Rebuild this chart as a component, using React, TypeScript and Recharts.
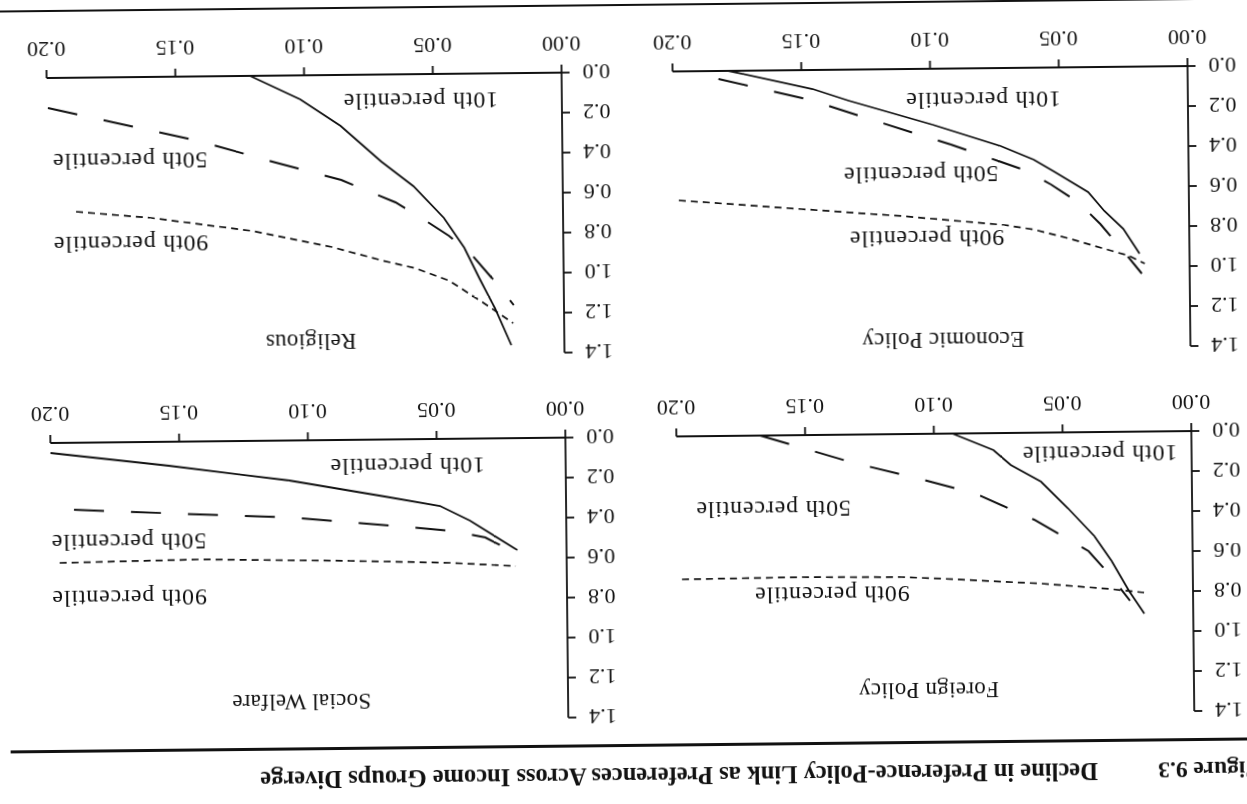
import React from "react";
import { LineChart, Line, XAxis, YAxis, ReferenceDot } from "recharts";

type Pt = { x: number; y: number };

const INK = "#111";
const FONT = '"Liberation Serif", "Times New Roman", serif';

const xTicks = [0, 0.05, 0.1, 0.15, 0.2];
const yTicks = [0, 0.2, 0.4, 0.6, 0.8, 1.0, 1.2, 1.4];
const seriesNames = ["10th percentile", "50th percentile", "90th percentile"];

const captionNumber = "Figure 9.3";
const captionText = "Decline in Preference-Policy Link as Preferences Across Income Groups Diverge";

// Foreign Policy
const foreign10: Pt[] = [
  { x: 0.0928, y: 0 }, { x: 0.0769, y: 0.085 }, { x: 0.0703, y: 0.16 }, { x: 0.0586, y: 0.245 },
  { x: 0.0482, y: 0.38 }, { x: 0.0381, y: 0.52 }, { x: 0.0315, y: 0.645 }, { x: 0.0249, y: 0.795 },
  { x: 0.019, y: 0.91 },
];
const foreign50: Pt[] = [
  { x: 0.1674, y: 0 }, { x: 0.1317, y: 0.14 }, { x: 0.1072, y: 0.22 }, { x: 0.0843, y: 0.3 },
  { x: 0.0614, y: 0.435 }, { x: 0.0404, y: 0.595 }, { x: 0.0322, y: 0.715 }, { x: 0.0245, y: 0.845 },
];
const foreign90: Pt[] = [
  { x: 0.1984, y: 0.715 }, { x: 0.1518, y: 0.71 }, { x: 0.113, y: 0.715 }, { x: 0.0975, y: 0.725 },
  { x: 0.0586, y: 0.755 }, { x: 0.0326, y: 0.785 }, { x: 0.019, y: 0.805 },
];
const foreignSpots: Pt[] = [
  { x: 0.0357, y: 0.11 }, { x: 0.1627, y: 0.37 }, { x: 0.1402, y: 0.8 }, { x: 0.103, y: 1.285 },
];

// Social Welfare
const social10: Pt[] = [
  { x: 0.2, y: 0.05 }, { x: 0.1541, y: 0.12 }, { x: 0.1074, y: 0.2 }, { x: 0.0704, y: 0.285 },
  { x: 0.049, y: 0.335 }, { x: 0.0374, y: 0.41 }, { x: 0.0191, y: 0.56 },
];
const social50: Pt[] = [
  { x: 0.1911, y: 0.335 }, { x: 0.1502, y: 0.36 }, { x: 0.1074, y: 0.385 }, { x: 0.0646, y: 0.435 },
  { x: 0.0451, y: 0.46 }, { x: 0.0315, y: 0.495 }, { x: 0.0198, y: 0.575 },
];
const social90: Pt[] = [
  { x: 0.1969, y: 0.6 }, { x: 0.1424, y: 0.59 }, { x: 0.084, y: 0.605 }, { x: 0.0451, y: 0.62 },
  { x: 0.0198, y: 0.64 },
];
const socialSpots: Pt[] = [
  { x: 0.0615, y: 0.135 }, { x: 0.17, y: 0.5 }, { x: 0.17, y: 0.78 }, { x: 0.1035, y: 1.31 },
];

// Economic Policy
const economic10: Pt[] = [
  { x: 0.1783, y: 0 }, { x: 0.1457, y: 0.095 }, { x: 0.1318, y: 0.155 }, { x: 0.0992, y: 0.28 },
  { x: 0.0729, y: 0.39 }, { x: 0.0601, y: 0.46 }, { x: 0.0523, y: 0.52 }, { x: 0.0391, y: 0.625 },
  { x: 0.0329, y: 0.72 }, { x: 0.0256, y: 0.81 }, { x: 0.0194, y: 0.935 },
];
const economic50: Pt[] = [
  { x: 0.1822, y: 0.04 }, { x: 0.1465, y: 0.15 }, { x: 0.1233, y: 0.25 }, { x: 0.0922, y: 0.38 },
  { x: 0.064, y: 0.51 }, { x: 0.0535, y: 0.585 }, { x: 0.043, y: 0.675 }, { x: 0.0345, y: 0.785 },
  { x: 0.0264, y: 0.91 }, { x: 0.0186, y: 1.035 },
];
const economic90: Pt[] = [
  { x: 0.1981, y: 0.645 }, { x: 0.1504, y: 0.695 }, { x: 0.1116, y: 0.735 }, { x: 0.0717, y: 0.785 },
  { x: 0.0601, y: 0.81 }, { x: 0.0469, y: 0.855 }, { x: 0.0341, y: 0.905 }, { x: 0.0236, y: 0.945 },
  { x: 0.0174, y: 0.985 },
];
const economicSpots: Pt[] = [
  { x: 0.0795, y: 0.16 }, { x: 0.104, y: 0.53 }, { x: 0.102, y: 0.85 }, { x: 0.096, y: 1.36 },
];

// Religious
const religious10: Pt[] = [
  { x: 0.121, y: 0 }, { x: 0.1016, y: 0.12 }, { x: 0.086, y: 0.255 }, { x: 0.0704, y: 0.435 },
  { x: 0.058, y: 0.56 }, { x: 0.0463, y: 0.72 }, { x: 0.0385, y: 0.87 }, { x: 0.0327, y: 1.025 },
  { x: 0.0268, y: 1.175 }, { x: 0.0206, y: 1.36 },
];
const religious50: Pt[] = [
  { x: 0.1996, y: 0.15 }, { x: 0.1743, y: 0.225 }, { x: 0.1405, y: 0.325 }, { x: 0.1113, y: 0.435 },
  { x: 0.086, y: 0.525 }, { x: 0.065, y: 0.64 }, { x: 0.0549, y: 0.72 }, { x: 0.0444, y: 0.81 },
  { x: 0.035, y: 0.915 }, { x: 0.0268, y: 1.04 }, { x: 0.0195, y: 1.16 },
];
const religious90: Pt[] = [
  { x: 0.1891, y: 0.67 }, { x: 0.1599, y: 0.705 }, { x: 0.121, y: 0.775 }, { x: 0.0899, y: 0.86 },
  { x: 0.0704, y: 0.93 }, { x: 0.0576, y: 0.97 }, { x: 0.0444, y: 1.035 }, { x: 0.0315, y: 1.145 },
  { x: 0.0198, y: 1.25 },
];
const religiousSpots: Pt[] = [
  { x: 0.0549, y: 0.135 }, { x: 0.168, y: 0.42 }, { x: 0.168, y: 0.835 }, { x: 0.0984, y: 1.335 },
];

type PanelProps = {
  title: string;
  p10: Pt[];
  p50: Pt[];
  p90: Pt[];
  spots: Pt[];
  left: number;
  top: number;
};

function Panel({ title, p10, p50, p90, spots, left, top }: PanelProps) {
  const texts = [...seriesNames, title];
  const axisStyle = { stroke: INK, strokeWidth: 1.8 };
  return (
    <div style={{ position: "absolute", left, top }}>
      <LineChart width={600} height={360} margin={{ top: 20, right: 25, bottom: 20, left: 10 }}>
        <XAxis
          type="number"
          dataKey="x"
          domain={[0, 0.2]}
          ticks={xTicks}
          interval={0}
          tickFormatter={(v: number) => v.toFixed(2)}
          axisLine={axisStyle}
          tickLine={axisStyle}
          tickSize={8}
          tickMargin={12}
          tick={{ fill: INK, fontSize: 22 }}
          height={40}
        />
        <YAxis
          type="number"
          domain={[0, 1.4]}
          ticks={yTicks}
          interval={0}
          tickFormatter={(v: number) => v.toFixed(1)}
          axisLine={axisStyle}
          tickLine={axisStyle}
          tickSize={8}
          tickMargin={13}
          tick={{ fill: INK, fontSize: 22 }}
          width={50}
        />
        <Line data={p10} dataKey="y" type="linear" stroke={INK} strokeWidth={1.8} dot={false} isAnimationActive={false} />
        <Line data={p50} dataKey="y" type="linear" stroke={INK} strokeWidth={2} strokeDasharray="30 27" dot={false} isAnimationActive={false} />
        <Line data={p90} dataKey="y" type="linear" stroke={INK} strokeWidth={1.7} strokeDasharray="7 5" dot={false} isAnimationActive={false} />
        {spots.map((s, i) => (
          <ReferenceDot
            key={i}
            x={s.x}
            y={s.y}
            r={0}
            shape={(p: any) => (
              <text
                x={p.cx}
                y={p.cy}
                textAnchor="middle"
                dominantBaseline="central"
                fontSize={i === 3 ? 23 : 24}
                letterSpacing={i === 3 ? 0.3 : 0.8}
                fill={INK}
              >
                {texts[i]}
              </text>
            )}
          />
        ))}
      </LineChart>
    </div>
  );
}

export default function App() {
  // the scan is upside down and a little skewed, so the whole page is turned
  return (
    <div
      style={{
        position: "fixed",
        left: 0,
        top: 0,
        width: 1247,
        height: 804,
        background: "#fff",
        transform: "rotate(179.4deg)",
        transformOrigin: "50% 50%",
        fontFamily: FONT,
        color: INK,
      }}
    >
      <div style={{ position: "absolute", left: -9, top: 14, fontSize: 23.6, fontWeight: 700, lineHeight: "28px", whiteSpace: "nowrap" }}>
        {captionNumber}
      </div>
      <div style={{ position: "absolute", left: 153, top: 14, fontSize: 24.5, fontWeight: 700, lineHeight: "28px", whiteSpace: "nowrap" }}>
        {captionText}
      </div>
      <div style={{ position: "absolute", left: 0, top: 57, width: 1240, height: 2.5, background: INK }} />
      <div style={{ position: "absolute", left: 0, top: 798, width: 1247, height: 2, background: INK }} />

      <Panel title="Foreign Policy" p10={foreign10} p50={foreign50} p90={foreign90} spots={foreignSpots} left={-4} top={67} />
      <Panel title="Social Welfare" p10={social10} p50={social50} p90={social90} spots={socialSpots} left={621.5} top={67} />
      <Panel title="Economic Policy" p10={economic10} p50={economic50} p90={economic90} spots={economicSpots} left={-4} top={432} />
      <Panel title="Religious" p10={religious10} p50={religious50} p90={religious90} spots={religiousSpots} left={621.5} top={432} />
    </div>
  );
}
